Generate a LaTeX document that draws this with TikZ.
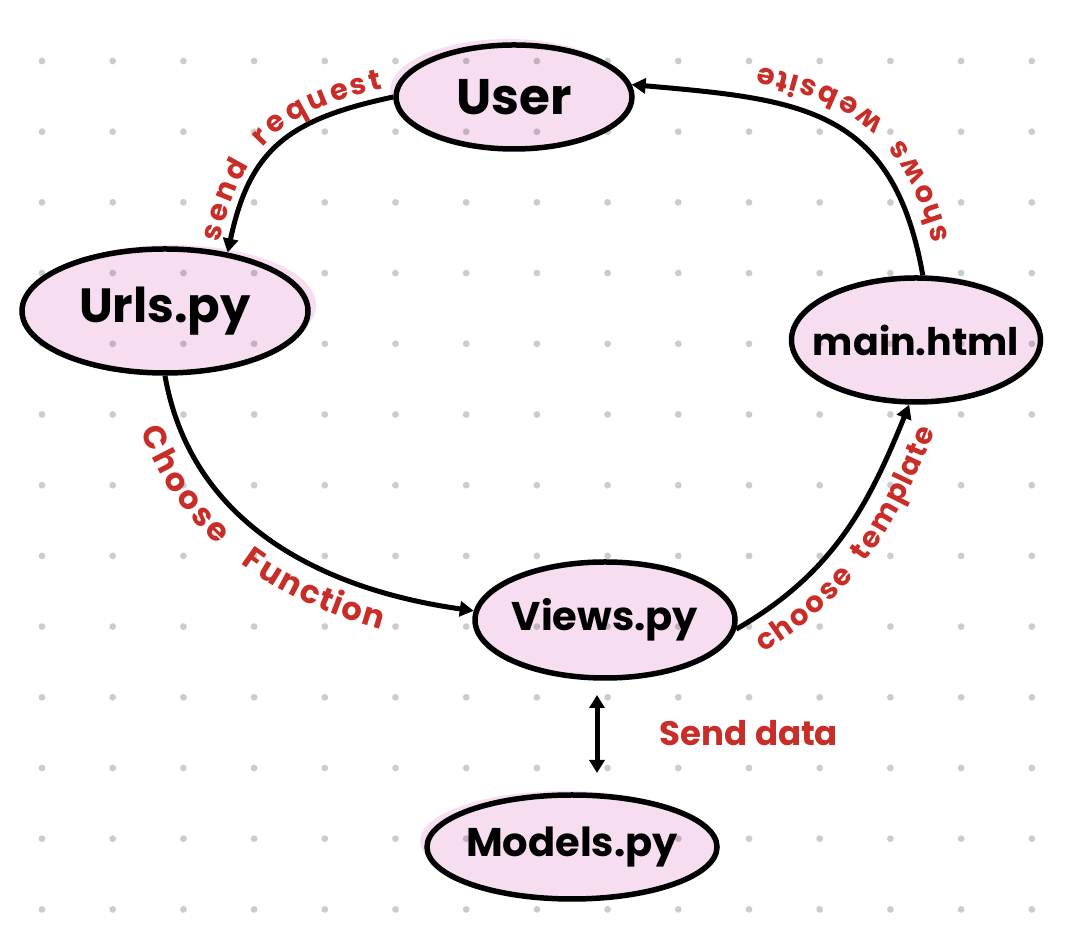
\documentclass[tikz,border=0pt]{standalone}
\usepackage{fontspec}
\setmainfont{Poppins}
\newfontfamily\labsp{Poppins}[LetterSpace=15]
\usetikzlibrary{shapes.geometric,arrows.meta,decorations.text}
\definecolor{pk}{RGB}{247,221,240}
\definecolor{lab}{RGB}{200,45,40}
\newcommand{\labfont}{\color{lab}\bfseries\fontsize{29}{31}\selectfont}
\newcommand{\labfontb}{\color{lab}\labsp\bfseries\fontsize{32}{34}\selectfont}
\begin{document}
\begin{tikzpicture}[x=1pt,y=1pt,
  bubble/.style={ellipse, draw=black, line width=5.5pt, inner sep=0pt, inner xsep=-15pt, text=black, font=\bfseries},
  conn/.style={line width=5pt, -{Triangle[length=14pt,width=15pt]}},
  dconn/.style={line width=5pt, {Triangle[length=13pt,width=15pt]}-{Triangle[length=13pt,width=15pt]}}]
\useasboundingbox (0,0) rectangle (1068,939);
\fill[white] (0,0) rectangle (1068,939);
% centres
\coordinate (cU) at (514,842);
\coordinate (cR) at (165,628);
\coordinate (cM) at (916,599);
\coordinate (cV) at (605,319);
\coordinate (cD) at (572,92);
% pink fills and offset blobs
\fill[pk] (508,848) ellipse (118 and 52);
\fill[pk] (173,634) ellipse (143 and 60);
\fill[pk] (919,604) ellipse (121 and 60);
\fill[pk] (603,322) ellipse (130 and 57);
\fill[pk] (565,98) ellipse (145 and 50);
\fill[pk] (cU) ellipse (118 and 52);
\fill[pk] (cR) ellipse (143 and 62);
\fill[pk] (cM) ellipse (121 and 62);
\fill[pk] (cV) ellipse (130 and 58);
\fill[pk] (cD) ellipse (145 and 52);
% dotted grid
\foreach \i in {0,...,14}{
  \foreach \j in {0,...,12}{
    \fill[black, opacity=0.2] ({42+70.7*\i},{878-70.7*\j}) circle (3.4);
  }
}
% nodes
\node[bubble, minimum width=236pt, minimum height=104pt, font=\bfseries\fontsize{50}{52}\selectfont] (user) at (cU) {User};
\node[bubble, minimum width=286pt, minimum height=124pt, font=\bfseries\fontsize{48}{50}\selectfont] (urls) at (cR) {Urls.py};
\node[bubble, minimum width=242pt, minimum height=124pt, font=\bfseries\fontsize{38}{40}\selectfont] (main) at (cM) {main.html};
\node[bubble, minimum width=260pt, minimum height=116pt, font=\bfseries\fontsize{40}{42}\selectfont] (views) at (cV) {Views.py};
\node[bubble, minimum width=290pt, minimum height=104pt, font=\bfseries\fontsize{40}{42}\selectfont] (models) at (cD) {Models.py};
% connectors
\draw[conn] (user.west) to[out=192,in=78,looseness=1.2] (urls.43);
\draw[conn] (urls.south) to[out=-80,in=172] (views.176);
\draw[conn] (views.-4) to[out=30,in=-112] (main.-96);
\draw[conn] (main.84) to[out=100,in=-5,looseness=1.25] (user.6);
\coordinate (d1) at (597,244);
\coordinate (d2) at (597,166);
\draw[dconn] (d1) -- (d2);
% labels along the connectors
\path[decorate, decoration={text along path, text={|\labfont|send\ \ request\ }, text align={fit to path, left indent=8pt, right indent=0pt}, raise=10pt}]
  (urls.43) to[out=78,in=192,looseness=1.2] (user.west);
\path[decorate, decoration={text along path, text={|\labfontb|Choose\ \ Function}, text align={left, left indent=42pt}, raise=-37pt}]
  (urls.south) to[out=-80,in=172] (views.176);
\path[decorate, decoration={text along path, text={|\labfont|choose\ \ template\ }, text align={fit to path, left indent=10pt, right indent=8pt}, raise=-34pt}]
  (views.-4) to[out=30,in=-112] (main.-96);
\path[decorate, decoration={text along path, text={|\labfont|shows\ \ website\ }, text align={fit to path, left indent=28pt, right indent=115pt}, raise=-32pt}]
  (main.84) to[out=100,in=-5,looseness=1.25] (user.6);
\node[text=lab, font=\bfseries\fontsize{34}{36}\selectfont] (sd) at (749,206) {Send data};
\end{tikzpicture}
\end{document}
